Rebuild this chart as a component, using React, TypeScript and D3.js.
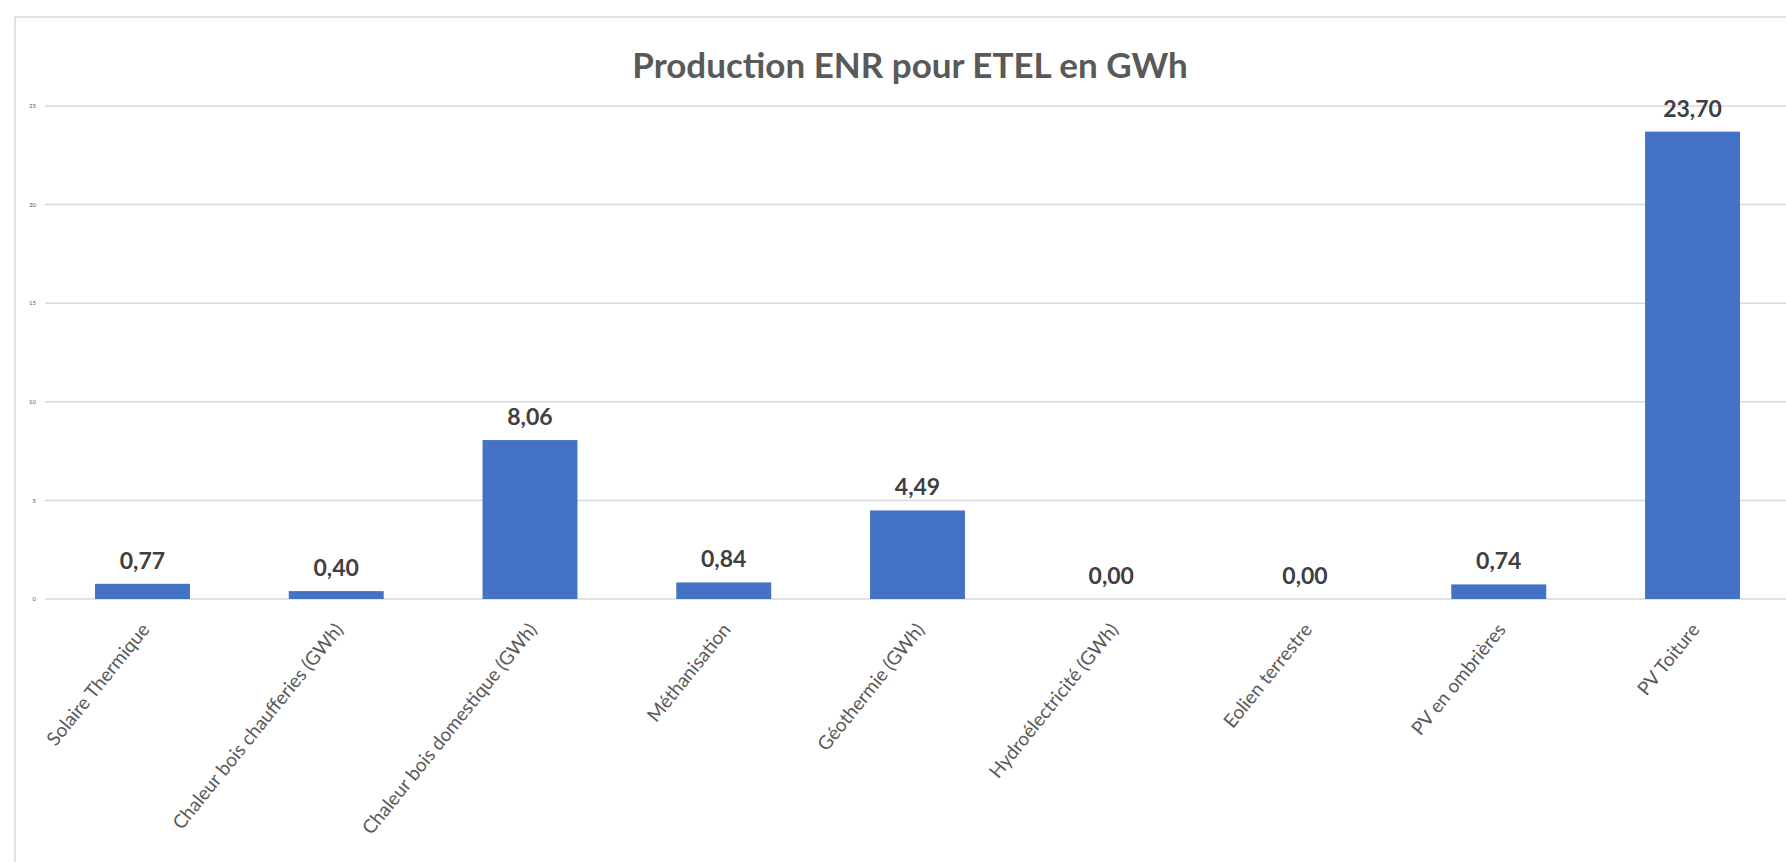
import React from "react";
import * as d3 from "d3";

// chart data
const categories = [
  "Solaire Thermique",
  "Chaleur bois chaufferies (GWh)",
  "Chaleur bois domestique (GWh)",
  "Méthanisation",
  "Géothermie (GWh)",
  "Hydroélectricité (GWh)",
  "Eolien terrestre",
  "PV en ombrières",
  "PV Toiture",
];
const values = [0.77, 0.4, 8.06, 0.84, 4.49, 0.0, 0.0, 0.74, 23.7];
const yTicks = [0, 5, 10, 15, 20, 25];
const title = "Production ENR pour ETEL en GWh";

const dims = { width: 1786, height: 862 };
const fmt = (v: number) => v.toFixed(2).replace(".", ",");

export default function App() {
  const x = d3
    .scaleBand<string>()
    .domain(categories)
    .range([45.6, 1789.4])
    .paddingInner(0.51)
    .paddingOuter(0.255);

  const y = d3.scaleLinear().domain([0, 25]).range([599, 106]);

  const gridColor = "#d9d9d9";
  const textColor = "#595959";

  return (
    <svg
      width={dims.width}
      height={dims.height}
      style={{ position: "absolute", left: 0, top: 0, background: "#fff" }}
    >
      {/* outer chart border */}
      <line x1={15} y1={17} x2={dims.width} y2={17} stroke={gridColor} strokeWidth={1.5} />
      <line x1={15} y1={17} x2={15} y2={dims.height} stroke={gridColor} strokeWidth={1.5} />

      <text
        x={910}
        y={78}
        textAnchor="middle"
        fontFamily="Lato, sans-serif"
        fontWeight={700}
        fontSize={35}
        fill={textColor}
      >
        {title}
      </text>

      {/* gridlines + y ticks */}
      {yTicks.map(t => (
        <g key={t}>
          <line x1={45} x2={dims.width} y1={y(t)} y2={y(t)} stroke={gridColor} strokeWidth={1.5} />
          <text
            x={36}
            y={y(t)}
            dy="0.35em"
            textAnchor="end"
            fontFamily="Lato, sans-serif"
            fontSize={6}
            fill={textColor}
          >
            {t}
          </text>
        </g>
      ))}

      {/* bars */}
      {categories.map((c, i) => (
        <rect
          key={c}
          x={x(c)}
          y={y(values[i])}
          width={x.bandwidth()}
          height={y(0) - y(values[i])}
          fill="#4472c4"
        />
      ))}

      {/* value labels */}
      {categories.map((c, i) => (
        <text
          key={c}
          x={(x(c) as number) + x.bandwidth() / 2}
          y={y(values[i]) - 15}
          textAnchor="middle"
          fontFamily="Lato, sans-serif"
          fontWeight={700}
          fontSize={23}
          fill="#404040"
        >
          {fmt(values[i])}
        </text>
      ))}

      {/* category labels, rotated */}
      {categories.map(c => {
        const cx = (x(c) as number) + x.bandwidth() / 2;
        return (
          <text
            key={c}
            transform={`translate(${cx + 8}, ${630}) rotate(-51)`}
            textAnchor="end"
            fontFamily="Lato, sans-serif"
            fontSize={19}
            fill={textColor}
          >
            {c}
          </text>
        );
      })}
    </svg>
  );
}
